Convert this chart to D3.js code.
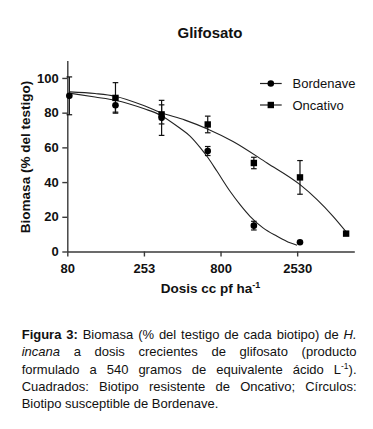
<!DOCTYPE html>
<html><head><meta charset="utf-8">
<script src="https://cdn.jsdelivr.net/npm/d3@7"></script>
<style>body{margin:0;background:#fff}</style>
</head><body>
<svg id="c" width="373" height="429"></svg>
<script>
// ---- data ----
const doses = [82.5, 165, 330, 660, 1320, 2640, 5280];
const bordenave = [89.7, 84.3, 77.0, 57.9, 14.9, 5.3];
const bordenaveErr = [10.9, 4.0, 10.1, 2.6, 2.5, 0];
const oncativo = [null, 88.5, 79.0, 73.2, 51.0, 42.7, 10.3];
const oncativoErr = [0, 8.8, 5.5, 4.8, 3.3, 9.7, 0];
const bordenaveCurveDose = [83.3, 121.3, 163.8, 257.2, 322.3, 435.2, 505.8, 587.8, 663, 759, 922.8, 1072.8, 1246, 1515, 1870, 2274, 2526];
const bordenaveCurve = [91.2, 89.0, 87.2, 82.1, 78.7, 71.0, 66.5, 60.0, 54.0, 46.2, 34.7, 27.0, 20.3, 13.6, 8.8, 5.0, 3.6];
const oncativoCurveDose = [83.3, 121.3, 163.8, 257.2, 322.3, 469.4, 663, 965, 1609, 2643, 3413, 4340, 5356];
const oncativoCurve = [92.0, 91.0, 89.5, 83.8, 80.2, 75.7, 70.5, 63.4, 51.0, 38.5, 29.9, 20.3, 10.7];
const xTicks = [80, 253, 800, 2530];
const yTicks = [0, 20, 40, 60, 80, 100];
const seriesNames = ["Bordenave", "Oncativo"];
const chartTitle = "Glifosato";
const xTitle = "Dosis cc pf ha";
const xTitleSup = "-1";
const yTitle = "Biomasa (% del testigo)";
// caption lines: words made of [text, style] segments
const captionLines = [
  [[["Figura","b"]],[["3:","b"]],[["Biomasa",""]],[["(%",""]],[["del",""]],[["testigo",""]],[["de",""]],[["cada",""]],[["biotipo)",""]],[["de",""]],[["H.","i"]]],
  [[["incana","i"]],[["a",""]],[["dosis",""]],[["crecientes",""]],[["de",""]],[["glifosato",""]],[["(producto",""]]],
  [[["formulado",""]],[["a",""]],[["540",""]],[["gramos",""]],[["de",""]],[["equivalente",""]],[["ácido",""]],[["L",""],["-1","sup"],[").",""]]],
  [[["Cuadrados:",""]],[["Biotipo",""]],[["resistente",""]],[["de",""]],[["Oncativo;",""]],[["Círculos:",""]]],
  [[["Biotipo",""]],[["susceptible",""]],[["de",""]],[["Bordenave.",""]]]
];

// ---- drawing ----
const FONT = "'Liberation Sans', Arial, Helvetica, sans-serif";
const svg = d3.select("#c").attr("font-family", FONT);
const x = d3.scaleLog().domain([80, 5971]).range([67.3, 354.3]);
const y = d3.scaleLinear().domain([0, 110]).range([251.5, 60.6]);

svg.append("text").attr("x", 210).attr("y", 38.3).attr("text-anchor", "middle")
  .attr("font-size", 15).attr("font-weight", "bold").attr("fill", "#111").text(chartTitle);

const gx = svg.append("g").attr("transform", `translate(0,${y(0)})`)
  .call(d3.axisBottom(x).tickValues(xTicks).tickFormat(d3.format("d")).tickSize(5).tickSizeOuter(0).tickPadding(7));
const gy = svg.append("g").attr("transform", `translate(${x(80)},0)`)
  .call(d3.axisLeft(y).tickValues(yTicks).tickSize(5).tickSizeOuter(0).tickPadding(3.5));
[gx, gy].forEach(g => {
  g.selectAll("path,line").attr("stroke", "#3a3a3a").attr("stroke-width", 1.4);
  g.selectAll("text").attr("font-family", FONT).attr("font-size", 13).attr("font-weight", "bold").attr("fill", "#111");
});

// axis titles
const xt = svg.append("text").attr("x", 210.5).attr("y", 292.7).attr("text-anchor", "middle")
  .attr("font-size", 13.5).attr("font-weight", "bold").attr("fill", "#111");
xt.append("tspan").text(xTitle);
xt.append("tspan").attr("font-size", 9).attr("dy", -5).text(xTitleSup);
svg.append("text").attr("transform", "translate(30,157) rotate(-90)").attr("text-anchor", "middle")
  .attr("font-size", 13.5).attr("font-weight", "bold").attr("fill", "#111").text(yTitle);

// curves
const line = d3.line().x(d => x(d[0])).y(d => y(d[1])).curve(d3.curveMonotoneX);
[[bordenaveCurveDose, bordenaveCurve], [oncativoCurveDose, oncativoCurve]].forEach(([ds, vs]) => {
  svg.append("path").datum(ds.map((d, i) => [d, vs[i]])).attr("d", line)
    .attr("fill", "none").attr("stroke", "#222").attr("stroke-width", 1.1);
});

// error bars
function errBars(vals, errs) {
  vals.forEach((v, i) => {
    const e = errs[i]; if (!e || v == null) return;
    const cx = x(doses[i]), y1 = y(v - e), y2 = y(v + e);
    svg.append("line").attr("x1", cx).attr("x2", cx).attr("y1", y1).attr("y2", y2).attr("stroke", "#111").attr("stroke-width", 1.2);
    [y1, y2].forEach(yy => svg.append("line").attr("x1", cx - 2.8).attr("x2", cx + 2.8).attr("y1", yy).attr("y2", yy).attr("stroke", "#111").attr("stroke-width", 1.2));
  });
}
errBars(oncativo, oncativoErr);
errBars(bordenave, bordenaveErr);

// markers
const SQ = 6.4, R = 3.3;
const onc = oncativo.map((v, i) => [doses[i], v]).filter(d => d[1] != null);
svg.selectAll(".sq").data(onc).enter().append("rect")
  .attr("x", d => x(d[0]) - SQ / 2).attr("y", d => y(d[1]) - SQ / 2)
  .attr("width", SQ).attr("height", SQ).attr("fill", "#000");
svg.selectAll(".ci").data(bordenave).enter().append("circle")
  .attr("cx", (d, i) => x(doses[i])).attr("cy", d => y(d)).attr("r", R).attr("fill", "#000");

// legend
const lg = [[seriesNames[0], 83.5, "c"], [seriesNames[1], 105, "s"]];
lg.forEach(([name, ly, m]) => {
  svg.append("line").attr("x1", 260).attr("x2", 281.7).attr("y1", ly).attr("y2", ly).attr("stroke", "#222").attr("stroke-width", 1.2);
  if (m === "c") svg.append("circle").attr("cx", 270.8).attr("cy", ly).attr("r", R).attr("fill", "#000");
  else svg.append("rect").attr("x", 270.8 - SQ / 2).attr("y", ly - SQ / 2).attr("width", SQ).attr("height", SQ).attr("fill", "#000");
  svg.append("text").attr("x", 292.5).attr("y", ly).attr("dy", "0.35em").attr("font-size", 13).attr("fill", "#111").text(name);
});

// caption (justified)
const CX0 = 21.7, CX1 = 356.5, CY0 = 339.2, CLH = 17.2;
function makeWord(parent, segs) {
  const t = parent.append("text").attr("font-size", 13).attr("fill", "#111");
  let sup = false;
  segs.forEach(([s, st]) => {
    const sp = t.append("tspan").text(s);
    if (st === "b") sp.attr("font-weight", "bold");
    if (st === "i") sp.attr("font-style", "italic");
    if (st === "sup") { sp.attr("font-size", 8.5).attr("dy", -5); sup = true; }
    else if (sup) { sp.attr("dy", 5); sup = false; }
  });
  return t;
}
captionLines.forEach((words, li) => {
  const yy = CY0 + li * CLH;
  const els = words.map(w => makeWord(svg, w).attr("y", yy));
  const widths = els.map(e => e.node().getComputedTextLength());
  const total = d3.sum(widths);
  const last = li === captionLines.length - 1;
  const gap = last ? 3.6 : (CX1 - CX0 - total) / (words.length - 1);
  let cx = CX0;
  els.forEach((e, i) => { e.attr("x", cx); cx += widths[i] + gap; });
});
</script>
</body></html>
